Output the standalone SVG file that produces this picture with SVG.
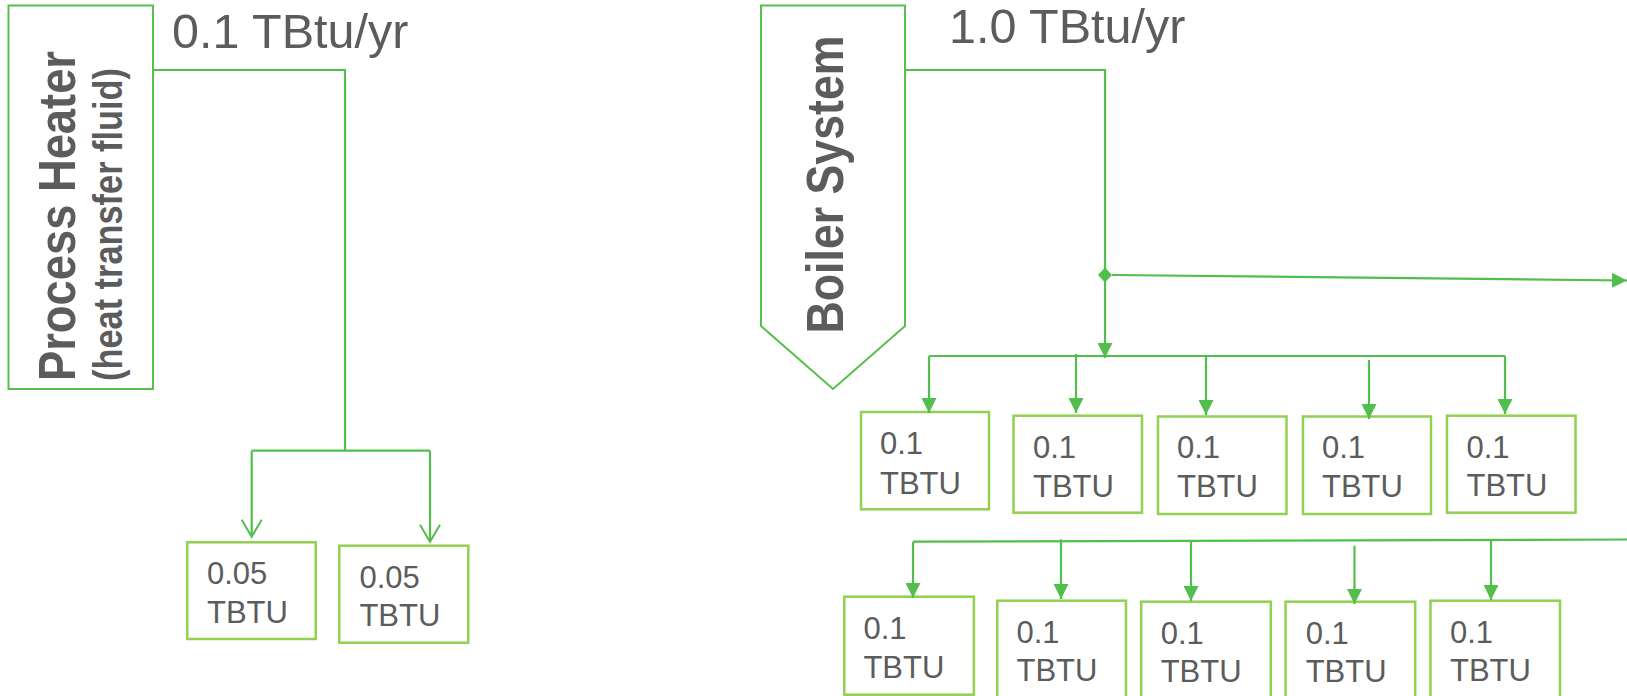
<svg xmlns="http://www.w3.org/2000/svg" width="1627" height="696" viewBox="0 0 1627 696">
<defs>
<style>
.lbl{font-family:"Liberation Sans",Arial,sans-serif;fill:#5c5c5c;}
.big{font-size:48.5px;}
.val{font-size:31px;}
.title{font-size:52px;font-weight:bold;}
.sub{font-size:40px;font-weight:bold;}
.box{fill:#fff;stroke:#92D050;stroke-width:2.5;}
.src{fill:#fff;stroke:#58BE4C;stroke-width:2;}
.con{fill:none;stroke:#52BE4B;stroke-width:2.2;}
</style>
<marker id="tri" markerUnits="userSpaceOnUse" viewBox="0 0 15 15" markerWidth="15" markerHeight="15" refX="15" refY="7.5" orient="auto"><path d="M0,0 L15,7.5 L0,15 z" fill="#52BE4B"/></marker>
<marker id="vee" markerUnits="userSpaceOnUse" viewBox="-1 -1 20 22" markerWidth="20" markerHeight="22" refX="17" refY="10" orient="auto"><path d="M0,0 L17,10 L0,20" fill="none" stroke="#52BE4B" stroke-width="2"/></marker>
</defs>
<rect width="1627" height="696" fill="#fff"/>

<g id="process-heater">
<rect class="src" x="8.5" y="5.5" width="144.5" height="383.5"/>
<text class="lbl title" transform="translate(75,381) rotate(-90)" textLength="330" lengthAdjust="spacingAndGlyphs">Process Heater</text>
<text class="lbl sub" transform="translate(121.5,381) rotate(-90)" textLength="313" lengthAdjust="spacingAndGlyphs">(heat transfer fluid)</text>
</g>
<text id="ph-label" class="lbl big" x="172" y="48">0.1 TBtu/yr</text>

<g id="boiler-system">
<polygon class="src" points="761,5.5 905,5.5 905,326 833,389 761,326"/>
<text class="lbl title" transform="translate(843.3,333.5) rotate(-90)" textLength="298" lengthAdjust="spacingAndGlyphs">Boiler System</text>
</g>
<text id="bs-label" class="lbl big" x="949" y="43">1.0 TBtu/yr</text>

<g id="ph-out-1"><rect class="box" x="187.3" y="542.3" width="128.4" height="96.7"/><text class="lbl val" x="207" y="584.3">0.05</text><text class="lbl val" x="207" y="622.7">TBTU</text></g>
<g id="ph-out-2"><rect class="box" x="339.3" y="545.7" width="129" height="97"/><text class="lbl val" x="359.4" y="587.7">0.05</text><text class="lbl val" x="359.4" y="626">TBTU</text></g>

<g id="bs-top-1"><rect class="box" x="861" y="412" width="128" height="97.3"/><text class="lbl val" x="880" y="453.5">0.1</text><text class="lbl val" x="880" y="493.5">TBTU</text></g>
<g id="bs-top-2"><rect class="box" x="1013.5" y="415.7" width="128.5" height="97"/><text class="lbl val" x="1033" y="457.5">0.1</text><text class="lbl val" x="1033" y="496.5">TBTU</text></g>
<g id="bs-top-3"><rect class="box" x="1158" y="416.5" width="128.5" height="97.5"/><text class="lbl val" x="1177" y="458">0.1</text><text class="lbl val" x="1177" y="496.5">TBTU</text></g>
<g id="bs-top-4"><rect class="box" x="1303" y="416.5" width="128" height="97.5"/><text class="lbl val" x="1322" y="458">0.1</text><text class="lbl val" x="1322" y="496.5">TBTU</text></g>
<g id="bs-top-5"><rect class="box" x="1447" y="415.7" width="128.5" height="97"/><text class="lbl val" x="1466.5" y="457.5">0.1</text><text class="lbl val" x="1466.5" y="496">TBTU</text></g>

<g id="bs-bot-1"><rect class="box" x="844.3" y="596.7" width="129.6" height="98"/><text class="lbl val" x="863.4" y="638.5">0.1</text><text class="lbl val" x="863.4" y="677.5">TBTU</text></g>
<g id="bs-bot-2"><rect class="box" x="997.3" y="600.7" width="128.7" height="100"/><text class="lbl val" x="1016.5" y="642.5">0.1</text><text class="lbl val" x="1016.5" y="680.5">TBTU</text></g>
<g id="bs-bot-3"><rect class="box" x="1141.2" y="601.7" width="129.6" height="100"/><text class="lbl val" x="1160.7" y="643.5">0.1</text><text class="lbl val" x="1160.7" y="681.5">TBTU</text></g>
<g id="bs-bot-4"><rect class="box" x="1285.6" y="601.7" width="129.6" height="100"/><text class="lbl val" x="1305.7" y="643.5">0.1</text><text class="lbl val" x="1305.7" y="681.5">TBTU</text></g>
<g id="bs-bot-5"><rect class="box" x="1430.5" y="600.7" width="129.5" height="100"/><text class="lbl val" x="1450" y="642.5">0.1</text><text class="lbl val" x="1450" y="680.5">TBTU</text></g>

<g id="connectors">
<path class="con" d="M153,70 H345 V450.7"/>
<path class="con" d="M251.7,450.7 H430"/>
<path class="con" d="M251.7,450.7 V536.7" marker-end="url(#vee)"/>
<path class="con" d="M430,450.7 V541.7" marker-end="url(#vee)"/>

<path class="con" d="M905,70 H1105 V358" marker-end="url(#tri)"/>
<polygon points="1105,267.5 1112,275 1105,282.5 1098,275" fill="#52BE4B"/>
<path class="con" d="M1112,275 L1627,280.5" marker-end="url(#tri)"/>

<path class="con" d="M929,356 H1505"/>
<path class="con" d="M929,356 V413" marker-end="url(#tri)"/>
<path class="con" d="M1076,354 V413" marker-end="url(#tri)"/>
<path class="con" d="M1206,356 V415" marker-end="url(#tri)"/>
<path class="con" d="M1369,360 V419" marker-end="url(#tri)"/>
<path class="con" d="M1505,356 V414" marker-end="url(#tri)"/>

<path class="con" d="M913,541.7 L1627,539.5"/>
<path class="con" d="M913,541.7 V598" marker-end="url(#tri)"/>
<path class="con" d="M1061,539.3 V599" marker-end="url(#tri)"/>
<path class="con" d="M1191,541.3 V601" marker-end="url(#tri)"/>
<path class="con" d="M1354.5,545.7 V604" marker-end="url(#tri)"/>
<path class="con" d="M1491,540.5 V600" marker-end="url(#tri)"/>
</g>
</svg>
